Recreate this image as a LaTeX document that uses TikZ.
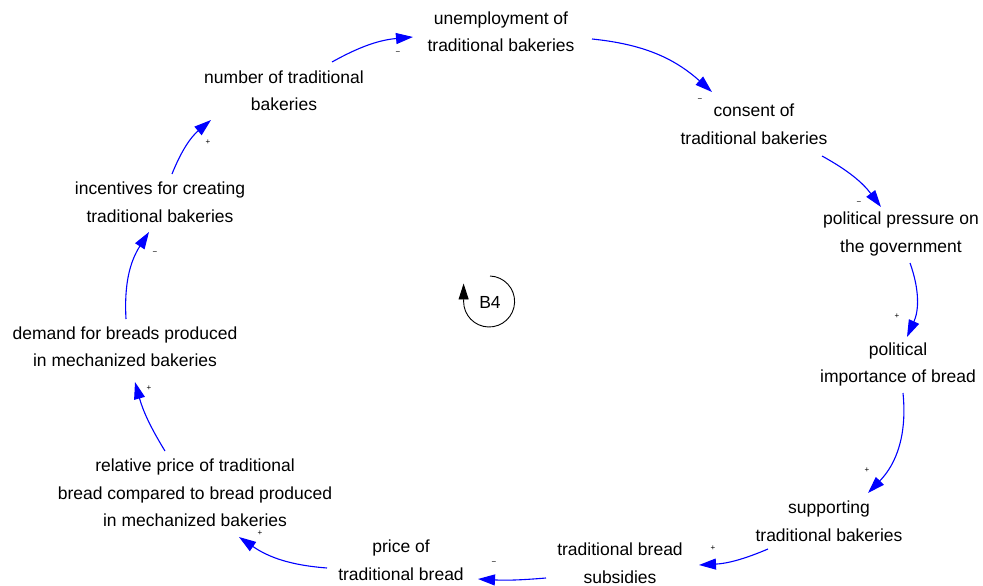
\documentclass[tikz,border=0pt]{standalone}
\usepackage{fontspec}
\setmainfont{Liberation Sans}
\usetikzlibrary{arrows.meta}
\definecolor{linkblue}{RGB}{0,0,255}
\tikzset{
  var/.style={align=center, inner sep=0pt, font=\fontsize{17.5}{27.5}\selectfont},
  link/.style={draw=linkblue, line width=1.1pt, -{Triangle[length=17pt,width=11pt]}},
  sign/.style={font=\fontsize{8}{9}\selectfont, inner sep=0pt},
}
\begin{document}
\begin{tikzpicture}[x=1pt,y=-1pt]
\useasboundingbox (0,0) rectangle (983,586);

% variables
\node[var] (unemp)   at (501,31.5)  {unemployment of\\traditional bakeries};
\node[var] (consent) at (754,124.5) {consent of\\traditional bakeries};
\node[var] (press)   at (901,234)   {political pressure on\\the government};
\node[var] (imp)     at (898,364.5) {political\\importance of bread};
\node[var] (supp)    at (829,521)   {supporting\\traditional bakeries};
\node[var] (subs)    at (620,563)   {traditional bread\\subsidies};
\node[var] (price)   at (401,560)   {price of\\traditional bread};
\node[var] (rel)     at (195,493)   {relative price of traditional\\bread compared to bread produced\\in mechanized bakeries};
\node[var] (demand)  at (125,346.5) {demand for breads produced\\in mechanized bakeries};
\node[var] (incent)  at (160,202)   {incentives for creating\\traditional bakeries};
\node[var] (num)     at (284,90.5)  {number of traditional\\bakeries};

% causal links, each bulging away from the loop centre
\draw[link] ([shift={(48,-28.5)}]num.center) to[bend left=12] ([shift={(-88,5.5)}]unemp.center);
\draw[link] ([shift={(91,7.5)}]unemp.center) to[bend left=18] ([shift={(-42,-32.5)}]consent.center);
\draw[link] ([shift={(68,31.5)}]consent.center) to[bend left=12] ([shift={(-20,-27)}]press.center);
\draw[link] ([shift={(9,29)}]press.center) to[bend left=22] ([shift={(9,-27.5)}]imp.center);
\draw[link] ([shift={(5,28.5)}]imp.center) to[bend left=25] ([shift={(39,-28)}]supp.center);
\draw[link] ([shift={(-61,28)}]supp.center) to[bend left=10] ([shift={(79,2)}]subs.center);
\draw[link] ([shift={(-74,15)}]subs.center) to[bend left=4] ([shift={(77,19)}]price.center);
\draw[link] ([shift={(-74,8)}]price.center) to[bend left=15] ([shift={(44,44)}]rel.center);
\draw[link] ([shift={(-30,-42)}]rel.center) to[bend left=8] ([shift={(10,35.5)}]demand.center);
\draw[link] ([shift={(1,-27.5)}]demand.center) to[bend left=18] ([shift={(-11,30)}]incent.center);
\draw[link] ([shift={(12,-28)}]incent.center) to[bend left=14] ([shift={(-73,29.5)}]num.center);

% polarities
\node[sign] (s1)  at (398,53)  {−};
\node[sign] (s2)  at (700,100) {−};
\node[sign] (s3)  at (859,203) {−};
\node[sign] (s4)  at (897,316) {+};
\node[sign] (s5)  at (867,470) {+};
\node[sign] (s6)  at (713,548) {+};
\node[sign] (s7)  at (494,563) {−};
\node[sign] (s8)  at (260,533) {+};
\node[sign] (s9)  at (149,388) {+};
\node[sign] (s10) at (155,253) {−};
\node[sign] (s11) at (208,142) {+};

% loop marker
\node[var] (loop) at (490,302) {B4};
\draw[line width=0.9pt, -{Triangle[length=16pt,width=10pt]}]
  ([shift={(0,-26)}]loop.center) arc[start angle=-88, end angle=180, radius=25.5] -- ++(0,-18);
\end{tikzpicture}
\end{document}
